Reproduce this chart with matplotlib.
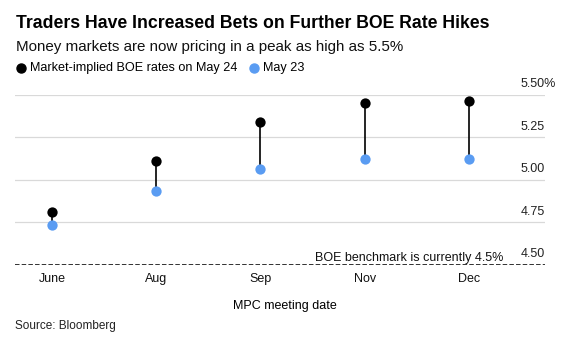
import matplotlib.pyplot as plt
from matplotlib.lines import Line2D

# Market-implied BOE rate at each MPC meeting
meetings = ['June', 'Aug', 'Sep', 'Nov', 'Dec']
rates_may24 = [4.81, 5.11, 5.34, 5.45, 5.46]
rates_may23 = [4.73, 4.93, 5.06, 5.12, 5.12]
benchmark = 4.5
y_ticks = [4.50, 4.75, 5.00, 5.25, 5.50]

BLACK = '#000000'
BLUE = '#5a9cf2'
GRID = '#d9d9d9'

plt.rcParams['font.family'] = ['Liberation Sans', 'DejaVu Sans']

fig = plt.figure(figsize=(5.75, 3.43), dpi=100)
ax = fig.add_axes([15 / 575, 78.5 / 343, 530 / 575, 170 / 343])

x = list(range(len(meetings)))
ax.set_xlim(-0.355, 4.73)
ax.set_ylim(4.5, 5.5)

# horizontal grid, the benchmark line is dashed
for v in y_ticks:
    if v == benchmark:
        ax.axhline(v, color='#222222', lw=1.3, ls=(0, (2.5, 1.2)), zorder=1)
    else:
        ax.axhline(v, color=GRID, lw=0.9, zorder=1)

# dumbbells
ax.vlines(x, rates_may23, rates_may24, color=BLACK, lw=1.2, zorder=2)
ax.scatter(x, rates_may24, s=55, color=BLACK, zorder=3, clip_on=False, linewidths=0)
ax.scatter(x, rates_may23, s=55, color=BLUE, zorder=3, clip_on=False, linewidths=0)

# y labels sit above their gridlines at the right edge; the top one carries the % sign
for v in y_ticks:
    if v == y_ticks[-1]:
        ax.text(4.835, v + 0.042, f'{v:.2f}%', ha='right', va='baseline',
                fontsize=9, color='#222222', clip_on=False)
    else:
        ax.text(4.73, v + 0.042, f'{v:.2f}', ha='right', va='baseline',
                fontsize=9, color='#222222')

ax.text(4.33, benchmark + 0.022, 'BOE benchmark is currently 4.5%',
        ha='right', va='baseline', fontsize=9, color='#111111')

ax.set_xticks(x, meetings)
ax.tick_params(axis='x', length=0, pad=6, labelsize=9, labelcolor='#111111')
ax.set_yticks([])
for s in ax.spines.values():
    s.set_visible(False)
ax.patch.set_alpha(0)

# header
fig.text(0.027, 1 - 28.3 / 343, 'Traders Have Increased Bets on Further BOE Rate Hikes',
         fontsize=12.7, fontweight='bold', va='baseline', ha='left')
fig.text(0.027, 1 - 51 / 343, 'Money markets are now pricing in a peak as high as 5.5%',
         fontsize=10.9, va='baseline', ha='left', color='#111111')

# legend row
fig.add_artist(Line2D([20.7 / 575], [1 - 67.7 / 343], marker='o', color=BLACK,
                      markersize=6.5, lw=0, transform=fig.transFigure))
fig.text(29.5 / 575, 1 - 71.5 / 343, 'Market-implied BOE rates on May 24',
         fontsize=9.1, va='baseline', ha='left')
fig.add_artist(Line2D([254 / 575], [1 - 67.7 / 343], marker='o', color=BLUE,
                      markersize=6.5, lw=0, transform=fig.transFigure))
fig.text(263 / 575, 1 - 71.5 / 343, 'May 23', fontsize=9.1, va='baseline', ha='left')

fig.text(285 / 575, 1 - 309.5 / 343, 'MPC meeting date', fontsize=9,
         va='baseline', ha='center')
fig.text(0.026, 1 - 329.5 / 343, 'Source: Bloomberg', fontsize=8.5,
         va='baseline', ha='left', color='#222222')

fig.savefig('out.png', dpi=100, facecolor='white')
